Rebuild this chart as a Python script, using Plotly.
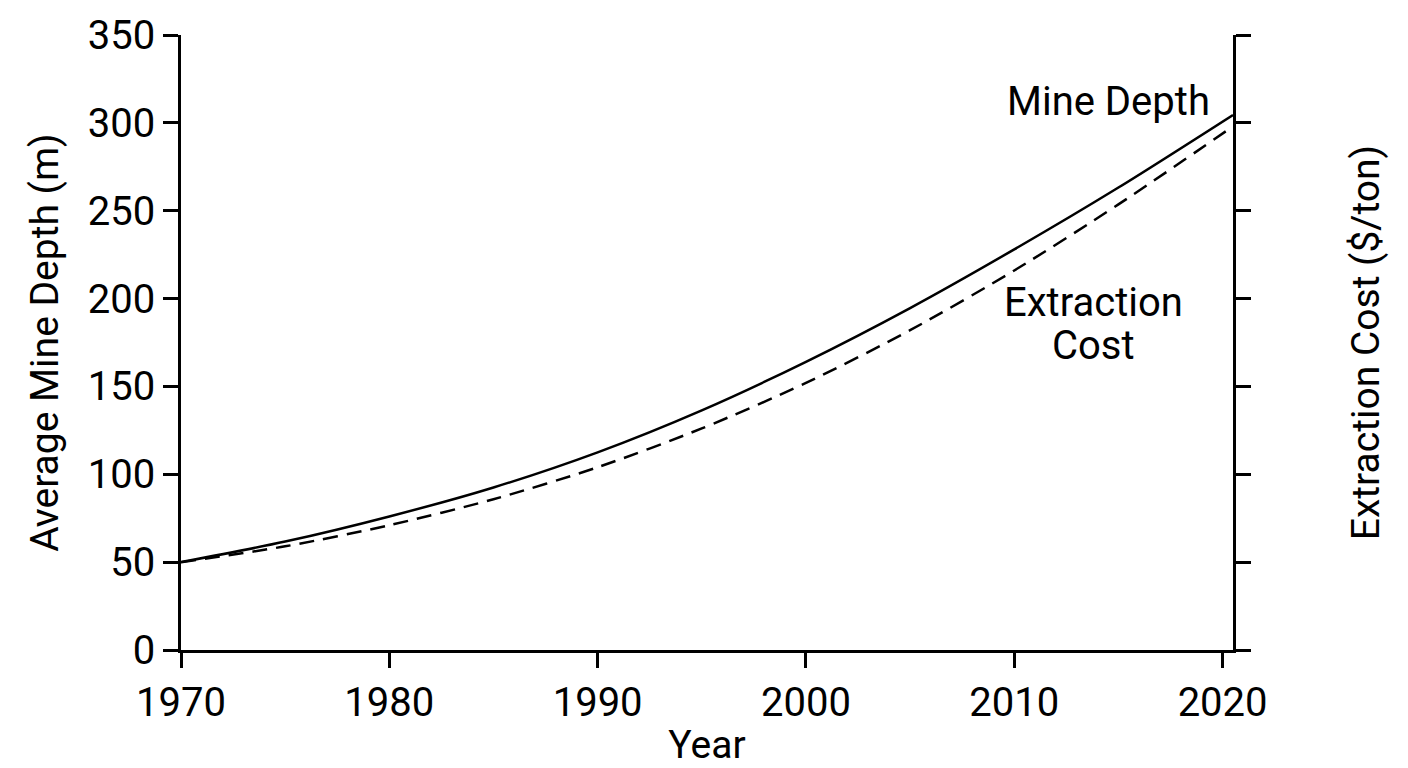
import plotly.graph_objects as go

years = [1970, 1975, 1980, 1985, 1990, 1995, 2000, 2005, 2010, 2015, 2020.5]
mine_depth = [50, 61.7, 76, 92.5, 112.5, 136.4, 164, 194.6, 228, 263.2, 304.5]
extraction_cost = [50, 59, 71, 85.8, 104, 126.1, 152, 182, 216, 253.6, 298]

y_ticks = [0, 50, 100, 150, 200, 250, 300, 350]
x_ticks = [1970, 1980, 1990, 2000, 2010, 2020]

FONT = "Roboto"
fig = go.Figure()
fig.add_trace(go.Scatter(x=years, y=mine_depth, mode="lines", name="Mine Depth",
                         line=dict(color="black", width=2.5, shape="spline", smoothing=0.8),
                         showlegend=False))
fig.add_trace(go.Scatter(x=years, y=extraction_cost, mode="lines", name="Extraction Cost",
                         line=dict(color="black", width=2.5, dash="15px,9px", shape="spline", smoothing=0.8),
                         yaxis="y2", showlegend=False))

axis_common = dict(showline=True, linecolor="black", linewidth=2.5, ticks="outside",
                   ticklen=15, tickwidth=2.5, tickcolor="black", showgrid=False,
                   zeroline=False, automargin=False,
                   tickfont=dict(family=FONT, size=40, color="black"))

fig.update_layout(
    width=1408, height=768,
    margin=dict(l=181, r=175, t=35, b=118),
    paper_bgcolor="white", plot_bgcolor="white",
    font=dict(family=FONT, size=40, color="black"),
    xaxis=dict(range=[1970, 2020.5], tickvals=x_ticks,
               title=dict(text="Year", font=dict(family=FONT, size=39), standoff=18),
               **axis_common),
    yaxis=dict(range=[0, 350], tickvals=y_ticks,
               title=dict(text="Average Mine Depth (m)", font=dict(family=FONT, size=39), standoff=18),
               **axis_common),
    yaxis2=dict(range=[0, 350], tickvals=y_ticks, overlaying="y", side="right",
                showticklabels=False,
                title=dict(text="Extraction Cost ($/ton)", font=dict(family=FONT, size=39), standoff=102),
                **axis_common),
    annotations=[
        dict(x=2014.5, y=312, xref="x", yref="y", text="Mine Depth", showarrow=False,
             font=dict(family=FONT, size=40, color="black"), xanchor="center", yanchor="middle"),
        dict(x=2013.8, y=197.5, xref="x", yref="y", text="Extraction", showarrow=False,
             font=dict(family=FONT, size=40, color="black"), xanchor="center", yanchor="middle"),
        dict(x=2013.8, y=173.5, xref="x", yref="y", text="Cost", showarrow=False,
             font=dict(family=FONT, size=40, color="black"), xanchor="center", yanchor="middle"),
    ],
)

fig.write_html("out.html")
